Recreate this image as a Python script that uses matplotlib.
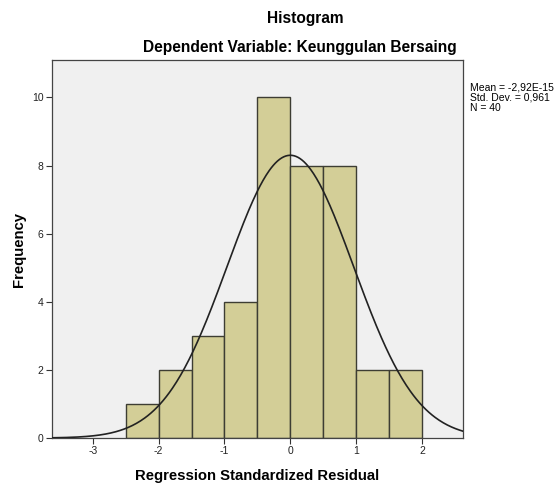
import numpy as np
import matplotlib
matplotlib.use('Agg')
import matplotlib.pyplot as plt

plt.rcParams['font.family'] = ['Liberation Sans', 'DejaVu Sans']
plt.rcParams['axes.unicode_minus'] = False

# histogram bins (left edges) and counts
bin_left = [-2.5, -2.0, -1.5, -1.0, -0.5, 0.0, 0.5, 1.0, 1.5]
counts = [1, 2, 3, 4, 10, 8, 8, 2, 2]
bin_width = 0.5
mean = -2.92e-15
std = 0.961
n = 40
x_ticks = [-3, -2, -1, 0, 1, 2]
y_ticks = [0, 2, 4, 6, 8, 10]

fig = plt.figure(figsize=(5.59, 4.84), dpi=100)
ax = fig.add_axes([0.093, 0.095, 0.735, 0.781])
ax.set_facecolor('#f0f0f0')

ax.bar(bin_left, counts, width=bin_width, align='edge', color='#d3ce97',
       edgecolor='#3d3d33', linewidth=1.0, zorder=2)

xs = np.linspace(-3.62, 2.62, 400)
pdf = n * bin_width / (std * np.sqrt(2 * np.pi)) * np.exp(-0.5 * ((xs - mean) / std) ** 2)
ax.plot(xs, pdf, color='#222222', linewidth=1.2, zorder=3)

ax.set_xlim(-3.62, 2.62)
ax.set_ylim(0, 11.1)
ax.set_xticks(x_ticks)
ax.set_yticks(y_ticks)
ax.tick_params(axis='both', labelsize=7.5, length=4, width=0.8, color='#333333',
               labelcolor='#222222', pad=2)
for s in ax.spines.values():
    s.set_color('#444444')
    s.set_linewidth(0.9)

ax.set_xlabel('Regression Standardized Residual', fontsize=10.7, fontweight='bold', labelpad=9)
ax.set_ylabel('Frequency', fontsize=10.7, fontweight='bold', labelpad=4)

fig.text(0.547, 0.962, 'Histogram', ha='center', va='center', fontsize=11.2, fontweight='bold')
fig.text(0.537, 0.902, 'Dependent Variable: Keunggulan Bersaing', ha='center', va='center',
         fontsize=11.2, fontweight='bold')

stats = 'Mean = -2,92E-15\nStd. Dev. = 0,961\nN = 40'
fig.text(0.840, 0.829, stats, ha='left', va='top', fontsize=7.5, linespacing=1.0)

fig.savefig('out.png', dpi=100)
